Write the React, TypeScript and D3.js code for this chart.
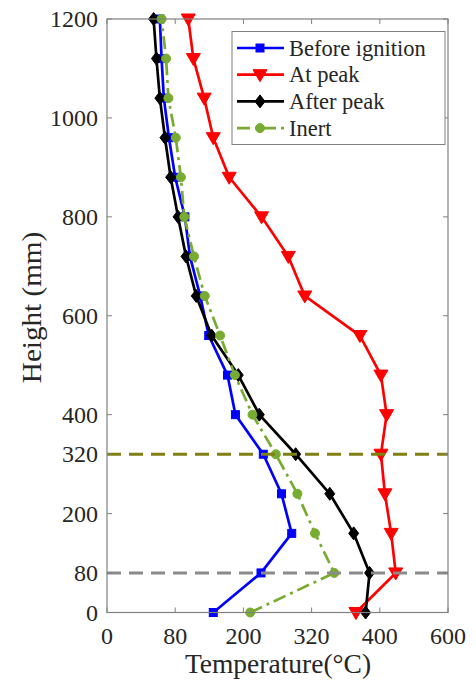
import React from "react";
import * as d3 from "d3";

// Measurement heights (mm)
const heights = [0, 80, 160, 240, 320, 400, 480, 560, 640, 720, 800, 880, 960, 1040, 1120, 1200];

// Temperatures (°C) at each height
const beforeIgnition = [187, 271, 325, 307, 275, 226, 212, 179, 164, 146, 137, 120, 109, 100, 96, 93];
const atPeak = [438, 508, 500, 489, 482, 492, 482, 445, 348, 319, 272, 215, 187, 171, 152, 143];
const afterPeak = [455, 462, 434, 392, 332, 268, 231, 184, 157, 139, 125, 112, 102, 93, 87, 82];
const inert = [252, 400, 366, 335, 297, 256, 225, 199, 172, 153, 136, 130, 121, 108, 104, 96];

// Axis ticks and their labels
const xTickValues = [0, 120, 240, 360, 480, 600];
const xTickLabels = ["0", "80", "200", "320", "400", "600"];
const yTickValues = [0, 80, 200, 320, 400, 600, 800, 1000, 1200];
const yTickLabels = ["0", "80", "200", "320", "400", "600", "800", "1000", "1200"];

// Reference heights marked with dashed lines
const refHeights = [320, 80];
const refColors = ["#7f7f12", "#8a8a8a"];

const seriesNames = ["Before ignition", "At peak", "After peak", "Inert"];
const seriesValues = [beforeIgnition, atPeak, afterPeak, inert];
const seriesColors = ["#0000ff", "#ff0000", "#000000", "#77ac30"];
const seriesMarkers = ["square", "triangleDown", "diamond", "circle"];
const seriesDash = [null, null, null, "13,5,3,5"];

const W = 476;
const H = 685;
const left = 107;
const right = 448;
const top = 19;
const bottom = 612.5;
const serif = { fontFamily: "Liberation Serif, serif" };
const AXIS = "#808080";
const TEXT = "#262626";

function Marker({ kind, x, y, color }: { kind: string; x: number; y: number; color: string }) {
  if (kind === "square") {
    return <rect x={x - 4} y={y - 4} width={8} height={8} fill={color} stroke={color} strokeWidth={1} />;
  }
  if (kind === "triangleDown") {
    const p = `${x - 7},${y - 5} ${x + 7},${y - 5} ${x},${y + 7}`;
    return <polygon points={p} fill={color} stroke={color} strokeWidth={1} strokeLinejoin="round" />;
  }
  if (kind === "diamond") {
    const p = `${x},${y - 6.5} ${x + 5},${y} ${x},${y + 6.5} ${x - 5},${y}`;
    return <polygon points={p} fill={color} stroke={color} strokeWidth={1} />;
  }
  return <circle cx={x} cy={y} r={4.5} fill={color} stroke={color} strokeWidth={1} />;
}

export default function App() {
  const x = d3.scaleLinear().domain([0, 600]).range([left, right]);
  const y = d3.scaleLinear().domain([0, 1200]).range([bottom, top]);

  const line = d3
    .line<[number, number]>()
    .x((d) => x(d[0]))
    .y((d) => y(d[1]));

  const tickLen = 5;

  return (
    <svg width={W} height={H} style={{ position: "absolute", left: 0, top: 0, background: "#fff" }}>
      <rect x={0} y={0} width={W} height={H} fill="#fff" />

      {/* series lines */}
      {seriesValues.map((vals, i) => {
        const pts = vals.map((v, j) => [v, heights[j]] as [number, number]);
        return (
          <g key={seriesNames[i]}>
            <path
              d={line(pts) || ""}
              fill="none"
              stroke={seriesColors[i]}
              strokeWidth={2.7}
              strokeLinejoin="round"
              strokeDasharray={seriesDash[i] || undefined}
            />
            {pts.map((p, j) => (
              <Marker key={j} kind={seriesMarkers[i]} x={x(p[0])} y={y(p[1])} color={seriesColors[i]} />
            ))}
          </g>
        );
      })}

      {/* dashed reference heights */}
      {refHeights.map((h, i) => (
        <line
          key={h}
          x1={left}
          x2={right}
          y1={y(h)}
          y2={y(h)}
          stroke={refColors[i]}
          strokeWidth={3}
          strokeDasharray="14,8"
        />
      ))}

      {/* axes box */}
      <rect x={left} y={top} width={right - left} height={bottom - top} fill="none" stroke={AXIS} strokeWidth={1.2} />

      {/* x ticks */}
      {xTickValues.map((v, i) => (
        <g key={"x" + v}>
          <line x1={x(v)} x2={x(v)} y1={bottom} y2={bottom - tickLen} stroke={AXIS} strokeWidth={1} />
          <line x1={x(v)} x2={x(v)} y1={top} y2={top + tickLen} stroke={AXIS} strokeWidth={1} />
          <text x={x(v)} y={644} textAnchor="middle" fontSize={24} fill={TEXT} style={serif}>
            {xTickLabels[i]}
          </text>
        </g>
      ))}

      {/* y ticks */}
      {yTickValues.map((v, i) => (
        <g key={"y" + v}>
          <line x1={left} x2={left + tickLen} y1={y(v)} y2={y(v)} stroke={AXIS} strokeWidth={1} />
          <line x1={right} x2={right - tickLen} y1={y(v)} y2={y(v)} stroke={AXIS} strokeWidth={1} />
          <text x={98} y={y(v)} dy="0.34em" textAnchor="end" fontSize={24} fill={TEXT} style={serif}>
            {yTickLabels[i]}
          </text>
        </g>
      ))}

      {/* axis titles */}
      <text x={(left + right) / 2 + 0.5} y={673} textAnchor="middle" fontSize={27.5} fill={TEXT} style={serif}>
        Temperature(°C)
      </text>
      <text
        transform="translate(40.5, 307.5) rotate(-90) scale(1.1, 1)"
        textAnchor="middle"
        fontSize={26.5}
        fill={TEXT}
        style={serif}
      >
        Height (mm)
      </text>

      {/* legend */}
      <g>
        <rect x={232} y={31.5} width={213} height={113} fill="#fff" stroke={AXIS} strokeWidth={1} />
        {seriesNames.map((name, i) => {
          const ly = 48 + i * 26.7;
          return (
            <g key={"lg" + name}>
              <line
                x1={237}
                x2={284}
                y1={ly}
                y2={ly}
                stroke={seriesColors[i]}
                strokeWidth={2.7}
                strokeDasharray={seriesDash[i] || undefined}
              />
              <Marker kind={seriesMarkers[i]} x={260} y={ly} color={seriesColors[i]} />
              <text x={289} y={ly} dy="0.34em" fontSize={22.5} fill={TEXT} style={serif}>
                {name}
              </text>
            </g>
          );
        })}
      </g>
    </svg>
  );
}
